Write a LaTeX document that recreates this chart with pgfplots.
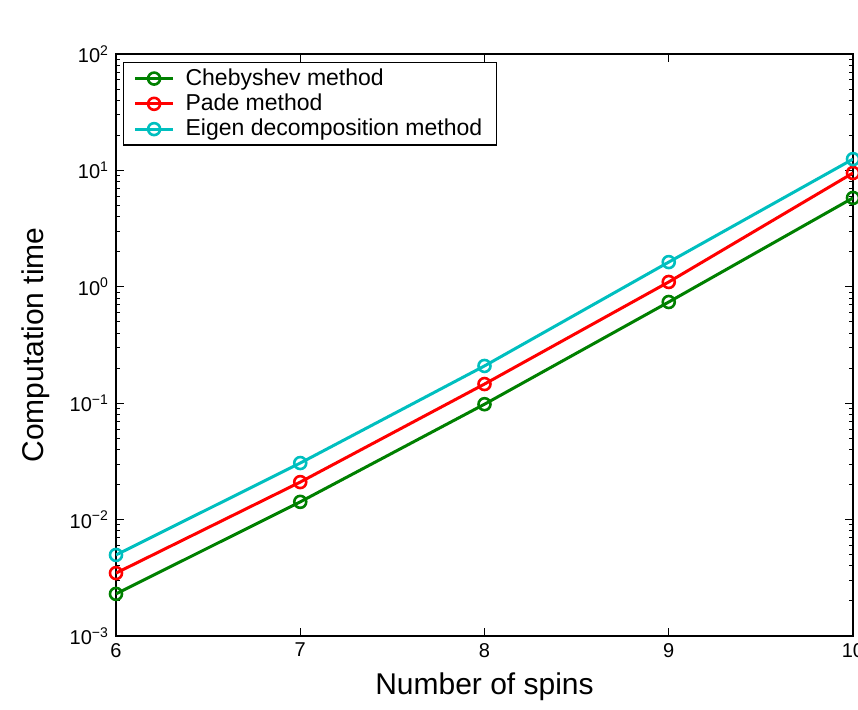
\documentclass[border=0pt]{standalone}
\usepackage{fontspec}
\setmainfont{Liberation Sans}
\usepackage{pgfplots}
\pgfplotsset{compat=1.18}
\definecolor{mgreen}{rgb}{0,0.5,0}
\definecolor{mred}{rgb}{1,0,0}
\definecolor{mcyan}{rgb}{0,0.75,0.75}
\begin{document}
\begin{tikzpicture}
\begin{axis}[
  at={(0,0)}, anchor=south west,
  scale only axis,
  width=368.5pt, height=291pt,
  xmin=6, xmax=10,
  ymode=log, ymin=1e-3, ymax=1e2,
  xtick={6,7,8,9,10},
  xticklabels={6,7,8,9,10},
  ytick={1e-3,1e-2,1e-1,1e0,1e1,1e2},
  yticklabels={10\textsuperscript{−3},10\textsuperscript{−2},10\textsuperscript{−1},10\textsuperscript{0},10\textsuperscript{1},10\textsuperscript{2}},
  tick align=inside,
  major tick length=4pt,
  minor tick length=2pt,
  tick style={black, line width=0.5pt},
  ticklabel style={font=\fontsize{10}{12}\selectfont},
  xlabel={Number of spins},
  ylabel={Computation time},
  label style={font=\fontsize{15}{18}\selectfont},
  xlabel style={yshift=-1pt},
  ylabel style={yshift=3pt},
  axis line style={black, line width=0.6pt},
  legend style={at={(0.0095,0.986)}, anchor=north west, draw=black, line width=0.6pt,
    font=\fontsize{11.5}{13}\selectfont, row sep=-1.2pt, inner xsep=5pt, inner ysep=1pt,
    cells={anchor=west}},
  legend image code/.code={\draw[#1] (0pt,0pt) -- (19pt,0pt); \draw[#1, only marks] plot coordinates {(9.5pt,0pt)}; \path (22.5pt,0pt);},
  every axis plot/.append style={line width=1.5pt, mark=o, mark size=3pt, mark options={line width=1.3pt, fill=none}},
]
\addplot[color=mgreen] coordinates {(6,0.0023) (7,0.0142) (8,0.098) (9,0.74) (10,5.8)};
\addlegendentry{Chebyshev method}
\addplot[color=mred] coordinates {(6,0.00347) (7,0.0210) (8,0.146) (9,1.10) (10,9.5)};
\addlegendentry{Pade method}
\addplot[color=mcyan] coordinates {(6,0.00497) (7,0.0306) (8,0.209) (9,1.63) (10,12.5)};
\addlegendentry{Eigen decomposition method}
\end{axis}
\pgfresetboundingbox
\path[use as bounding box] (-58pt,-37pt) rectangle (371pt,318pt);
\end{tikzpicture}
\end{document}
